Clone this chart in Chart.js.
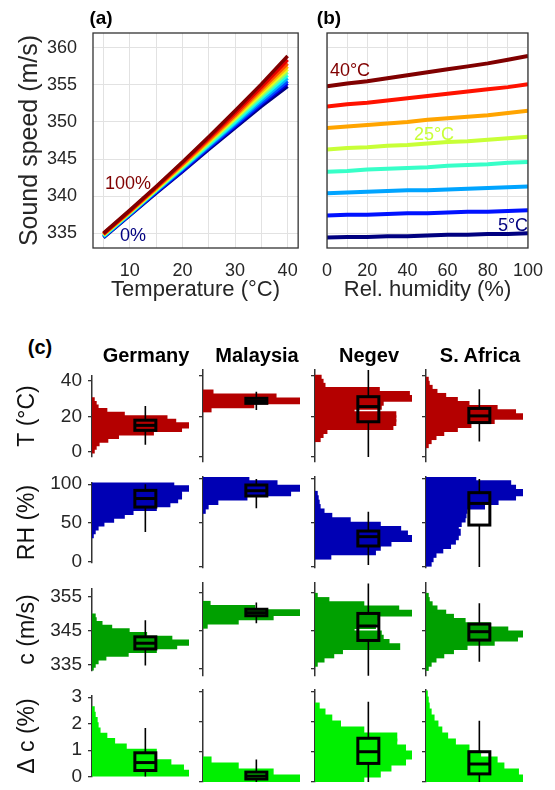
<!DOCTYPE html>
<html lang="en">
<head>
<meta charset="UTF-8" />
<title>Sound speed vs temperature and humidity</title>
<script src="https://cdn.jsdelivr.net/npm/chart.js"></script>
<style>
  body { margin: 0; background: #fff; overflow: hidden; }
  #fig { position: relative; width: 555px; height: 790px; font-family: "Liberation Sans", Arial, sans-serif; }
  .lbl { position: absolute; transform: translate(-50%, -50%); white-space: nowrap; line-height: 1; }
</style>
</head>
<body>
<div id="fig"></div>
<script>
  // ---- panel (a)/(b): sound speed table, one array per temperature (RH 0..100 %)
  const tempsC = [5, 10, 15, 20, 25, 30, 35, 40];
  const humidities = [0, 10, 20, 30, 40, 50, 60, 70, 80, 90, 100];
  const speedAt5 = [334.4, 334.5, 334.5, 334.6, 334.6, 334.7, 334.8, 334.8, 334.9, 334.9, 335.0];
  const speedAt10 = [337.4, 337.5, 337.5, 337.6, 337.7, 337.7, 337.8, 337.9, 337.9, 338.0, 338.1];
  const speedAt15 = [340.4, 340.5, 340.6, 340.7, 340.8, 340.8, 340.9, 341.0, 341.1, 341.2, 341.3];
  const speedAt20 = [343.3, 343.4, 343.6, 343.7, 343.8, 343.9, 344.1, 344.2, 344.3, 344.5, 344.6];
  const speedAt25 = [346.3, 346.5, 346.6, 346.8, 346.9, 347.1, 347.3, 347.4, 347.6, 347.8, 348.0];
  const speedAt30 = [349.2, 349.4, 349.6, 349.8, 350.0, 350.3, 350.5, 350.7, 350.9, 351.2, 351.5];
  const speedAt35 = [352.1, 352.4, 352.6, 352.9, 353.2, 353.5, 353.8, 354.1, 354.4, 354.7, 355.1];
  const speedAt40 = [354.8, 355.2, 355.5, 355.9, 356.3, 356.7, 357.1, 357.5, 357.9, 358.4, 358.9];
  const speedRows = [speedAt5, speedAt10, speedAt15, speedAt20, speedAt25, speedAt30, speedAt35, speedAt40];

  const tempGrid = [5, 10, 15, 20, 25, 30, 35, 40];
  const tempLabels = [10, 20, 30, 40];
  const humidityLabels = [0, 20, 40, 60, 80, 100];
  const speedTicks = [335, 340, 345, 350, 355, 360];

  // ---- panel (c): histograms (bin centres, relative counts) and box stats [min, q1, median, q3, max]
  const germanyTBins = [1, 3, 5, 7, 9, 11, 13, 15, 17, 19, 21, 23, 25, 27, 29];
  const germanyTCounts = [2, 4, 7, 16, 27, 63, 92, 100, 86, 77, 33, 15, 6, 4, 2];
  const germanyTBox = [4.1, 12.2, 15.0, 17.9, 25.8];
  const malaysiaTBins = [23.7, 25.7, 27.7, 29.7, 31.7];
  const malaysiaTCounts = [8, 52, 100, 75, 10];
  const malaysiaTBox = [23.2, 26.5, 27.7, 29.0, 32.2];
  const negevTBins = [9, 11, 13, 15, 17, 19, 21, 23, 25, 27, 29, 31, 33, 35, 37, 39];
  const negevTCounts = [5, 8, 12, 80, 83, 83, 83, 40, 68, 70, 100, 97, 66, 10, 8, 6];
  const negevTBox = [0, 17.4, 24.9, 29.8, 43];
  const safricaTBins = [6, 8, 10, 12, 14, 16, 18, 20, 22, 24, 26, 28, 30, 32, 34, 36, 38];
  const safricaTCounts = [2, 5, 10, 18, 32, 46, 70, 100, 92, 73, 44, 32, 20, 11, 6, 3, 2];
  const safricaTBox = [7.6, 17.0, 20.3, 24.0, 33.5];

  const germanyRHBins = [34.5, 39.5, 44.5, 49.5, 54.5, 59.5, 64.5, 69.5, 74.5, 79.5, 84.5, 89.5, 94.5, 99.5];
  const germanyRHCounts = [1, 3, 6, 12, 22, 33, 42, 66, 80, 88, 92, 92, 100, 84];
  const germanyRHBox = [38.3, 70.5, 81.5, 92.0, 100];
  const malaysiaRHBins = [64.5, 69.5, 74.5, 79.5, 84.5, 89.5, 94.5, 99.5];
  const malaysiaRHCounts = [2, 5, 15, 45, 90, 100, 76, 47];
  const malaysiaRHBox = [66.7, 80.7, 86.7, 93.2, 100];
  const negevRHBins = [12.5, 17.5, 22.5, 27.5, 32.5, 37.5, 42.5, 47.5, 52.5, 57.5, 62.5, 67.5, 72.5, 77.5, 82.5];
  const negevRHCounts = [16, 62, 67, 78, 100, 95, 88, 67, 36, 17, 9, 5, 4, 3, 2];
  const negevRHBox = [2.3, 23.9, 34.5, 40.9, 62.9];
  const safricaRHBins = [4.5, 9.5, 14.5, 19.5, 24.5, 29.5, 34.5, 39.5, 44.5, 49.5, 54.5, 59.5, 64.5, 69.5, 74.5, 79.5, 84.5, 89.5, 94.5, 99.5];
  const safricaRHCounts = [5, 7, 10, 17, 25, 30, 33, 35, 33, 36, 40, 41, 42, 60, 74, 92, 100, 92, 87, 51];
  const safricaRHBox = [0, 47.7, 72.3, 84.5, 100];

  const germanyCBins = [333.8, 334.9, 336.0, 337.1, 338.2, 339.3, 340.4, 341.5, 342.6, 343.7, 344.8, 345.9, 347.0, 348.1, 349.2];
  const germanyCCounts = [1, 3, 6, 14, 37, 66, 87, 100, 82, 56, 38, 20, 10, 4, 3];
  const germanyCBox = [334.7, 339.6, 341.3, 343.2, 348.1];
  const malaysiaCBins = [346.5, 347.6, 348.7, 349.8, 350.9, 352.0];
  const malaysiaCCounts = [4, 36, 72, 100, 53, 7];
  const malaysiaCBox = [347.0, 349.0, 349.8, 350.7, 352.5];
  const negevCBins = [336.5, 337.6, 338.7, 339.8, 340.9, 342.0, 343.1, 344.2, 345.3, 346.4, 347.5, 348.6, 349.7, 350.8, 351.9, 353.0, 354.1];
  const negevCCounts = [2, 9, 19, 28, 87, 76, 70, 68, 40, 62, 64, 66, 100, 86, 50, 14, 2];
  const negevCBox = [333.2, 342.5, 346.3, 349.6, 357.5];
  const safricaCBins = [335.4, 336.5, 337.6, 338.7, 339.8, 340.9, 342.0, 343.1, 344.2, 345.3, 346.4, 347.5, 348.6, 349.7, 350.8, 351.9, 353.0, 354.1];
  const safricaCCounts = [2, 5, 10, 18, 28, 42, 70, 94, 100, 84, 66, 40, 28, 20, 11, 6, 3, 2];
  const safricaCBox = [336.9, 342.6, 344.8, 346.8, 352.3];

  const germanyDBins = [0.1, 0.3, 0.5, 0.7, 0.9, 1.1, 1.3, 1.5, 1.7, 1.9, 2.1, 2.3, 2.5];
  const germanyDCounts = [100, 94, 81, 66, 66, 35, 23, 15, 8, 6, 5, 3, 2];
  const germanyDBox = [0, 0.23, 0.53, 0.9, 1.84];
  const malaysiaDBins = [0.1, 0.3, 0.5, 0.7];
  const malaysiaDCounts = [100, 72, 36, 8];
  const malaysiaDBox = [0, 0.1, 0.2, 0.33, 0.75];
  const negevDBins = [0.1, 0.3, 0.5, 0.7, 0.9, 1.1, 1.3, 1.5, 1.7, 1.9, 2.1, 2.3, 2.5];
  const negevDCounts = [50, 67, 78, 93, 100, 93, 84, 84, 50, 26, 17, 10, 4];
  const negevDBox = [0, 0.62, 1.01, 1.46, 2.68];
  const safricaDBins = [0.1, 0.3, 0.5, 0.7, 0.9, 1.1, 1.3, 1.5, 1.7, 1.9, 2.1, 2.3, 2.5, 2.7, 2.9];
  const safricaDCounts = [100, 95, 80, 73, 56, 44, 30, 22, 16, 12, 8, 5, 3, 2, 1];
  const safricaDBox = [0, 0.27, 0.6, 1.01, 2.04];

  const regions = ["Germany", "Malaysia", "Negev", "S. Africa"];
  const rowTitles = ["T (°C)", "RH (%)", "c (m/s)", "Δ c (%)"];
  const rowTicks = [[0, 20, 40], [0, 50, 100], [335, 345, 355], [0, 1, 2, 3]];
  const rowRanges = [[-2.5, 43], [-1.1, 102.3], [333.16, 357.6], [0, 3.07]];

  const panelsC = [
    [[germanyTBins, germanyTCounts, germanyTBox], [malaysiaTBins, malaysiaTCounts, malaysiaTBox],
     [negevTBins, negevTCounts, negevTBox], [safricaTBins, safricaTCounts, safricaTBox]],
    [[germanyRHBins, germanyRHCounts, germanyRHBox], [malaysiaRHBins, malaysiaRHCounts, malaysiaRHBox],
     [negevRHBins, negevRHCounts, negevRHBox], [safricaRHBins, safricaRHCounts, safricaRHBox]],
    [[germanyCBins, germanyCCounts, germanyCBox], [malaysiaCBins, malaysiaCCounts, malaysiaCBox],
     [negevCBins, negevCCounts, negevCBox], [safricaCBins, safricaCCounts, safricaCBox]],
    [[germanyDBins, germanyDCounts, germanyDBox], [malaysiaDBins, malaysiaDCounts, malaysiaDBox],
     [negevDBins, negevDCounts, negevDBox], [safricaDBins, safricaDCounts, safricaDBox]],
  ];

  // ---- layout / style
  const rowColors = ["#b40000", "#0000b4", "#00a000", "#00f000"];
  const colAxisX = [92, 203, 315, 426];
  const rowTop = [370, 477, 583, 690];
  const rowBottom = [462, 568, 676, 782];
  const textColor = "#262626";

  Chart.defaults.font.family = "'Liberation Sans', Arial, sans-serif";
  Chart.defaults.color = textColor;

  const fig = document.getElementById("fig");

  function addCanvas(left, top, width, height) {
    const c = document.createElement("canvas");
    c.width = width;
    c.height = height;
    c.style.cssText = `position:absolute;left:${left}px;top:${top}px;width:${width}px;height:${height}px`;
    fig.appendChild(c);
    return c;
  }

  function addText(text, x, y, size, weight, color) {
    const d = document.createElement("div");
    d.className = "lbl";
    d.textContent = text;
    d.style.left = x + "px";
    d.style.top = y + "px";
    d.style.fontSize = size + "px";
    d.style.fontWeight = weight;
    d.style.color = color;
    fig.appendChild(d);
  }

  function jet(t) {
    const ch = (v) => Math.round(255 * Math.max(0, Math.min(1, 1.5 - Math.abs(4 * t - v))));
    return `rgb(${ch(3)},${ch(2)},${ch(1)})`;
  }

  // frame round the plot area (panels a and b)
  const framePlugin = {
    id: "frame",
    afterDraw(chart, args, opts) {
      if (!opts.color) return;
      const { left, top, right, bottom } = chart.chartArea;
      const ctx = chart.ctx;
      ctx.save();
      ctx.strokeStyle = opts.color;
      ctx.lineWidth = opts.width;
      ctx.strokeRect(left, top, right - left, bottom - top);
      ctx.restore();
    },
  };

  // box and whiskers drawn through the chart scales
  const boxPlugin = {
    id: "boxplot",
    afterDatasetsDraw(chart, args, opts) {
      if (!opts.stats) return;
      const [lo, q1, med, q3, hi] = opts.stats;
      const ctx = chart.ctx;
      const cx = chart.scales.x.getPixelForValue(opts.at);
      const py = (v) => chart.scales.y.getPixelForValue(v);
      const hw = opts.halfWidth;
      ctx.save();
      ctx.strokeStyle = "#000";
      ctx.lineWidth = 1.6;
      ctx.beginPath();
      ctx.moveTo(cx, py(hi));
      ctx.lineTo(cx, py(q3));
      ctx.moveTo(cx, py(q1));
      ctx.lineTo(cx, py(lo));
      ctx.stroke();
      ctx.lineWidth = 3;
      ctx.strokeRect(cx - hw, py(q3), 2 * hw, py(q1) - py(q3));
      ctx.beginPath();
      ctx.moveTo(cx - hw, py(med));
      ctx.lineTo(cx + hw, py(med));
      ctx.stroke();
      ctx.restore();
    },
  };

  Chart.register(framePlugin, boxPlugin);

  // ---- panel (a)
  const datasetsA = [];
  for (let j = humidities.length - 1; j >= 0; j--) {
    datasetsA.push({
      data: tempsC.map((t, i) => ({ x: t, y: speedRows[i][j] })),
      borderColor: jet(j / (humidities.length - 1)),
      borderWidth: 3.5,
      pointRadius: 0,
    });
  }

  new Chart(addCanvas(0, 0, 310, 310), {
    type: "line",
    data: { datasets: datasetsA },
    options: {
      responsive: false,
      animation: false,
      layout: { padding: { top: 33, right: 7, left: 0, bottom: 0 } },
      plugins: { legend: { display: false }, tooltip: { enabled: false }, frame: { color: "#333", width: 1.3 } },
      scales: {
        x: {
          type: "linear", min: 3, max: 42,
          afterBuildTicks: (s) => { s.ticks = tempGrid.map((v) => ({ value: v })); },
          afterFit: (s) => { s.height = 62; },
          ticks: { callback: (v) => (tempLabels.includes(v) ? v : ""), font: { size: 18 }, padding: 12, autoSkip: false, maxRotation: 0 },
          grid: { color: "#e2e2e2", drawTicks: false },
          border: { display: false },
          title: { display: true, text: "Temperature (°C)", font: { size: 22 }, padding: { top: 0, bottom: 7 } },
        },
        y: {
          type: "linear", min: 333, max: 362,
          afterBuildTicks: (s) => { s.ticks = speedTicks.map((v) => ({ value: v })); },
          afterFit: (s) => { s.width = 93; },
          ticks: { font: { size: 18 }, padding: 16, autoSkip: false },
          grid: { color: "#e2e2e2", drawTicks: false },
          border: { display: false },
          title: { display: true, text: "Sound speed (m/s)", font: { size: 25 }, padding: { top: 15, bottom: 0 } },
        },
      },
    },
  });

  // ---- panel (b)
  const datasetsB = tempsC.map((t, i) => ({
    data: humidities.map((h, j) => ({ x: h, y: speedRows[i][j] })),
    borderColor: jet(i / (tempsC.length - 1)),
    borderWidth: 4,
    pointRadius: 0,
  }));

  new Chart(addCanvas(310, 0, 245, 310), {
    type: "line",
    data: { datasets: datasetsB },
    options: {
      responsive: false,
      animation: false,
      layout: { padding: { top: 33, right: 25, left: 0, bottom: 0 } },
      plugins: { legend: { display: false }, tooltip: { enabled: false }, frame: { color: "#333", width: 1.3 } },
      scales: {
        x: {
          type: "linear", min: 0, max: 100,
          afterBuildTicks: (s) => { s.ticks = humidities.map((v) => ({ value: v })); },
          afterFit: (s) => { s.height = 62; },
          ticks: { callback: (v) => (humidityLabels.includes(v) ? v : ""), font: { size: 18 }, padding: 12, autoSkip: false, maxRotation: 0 },
          grid: { color: "#e2e2e2", drawTicks: false },
          border: { display: false },
          title: { display: true, text: "Rel. humidity (%)", font: { size: 22 }, padding: { top: 0, bottom: 7 } },
        },
        y: {
          type: "linear", min: 333, max: 362,
          afterBuildTicks: (s) => { s.ticks = speedTicks.map((v) => ({ value: v })); },
          afterFit: (s) => { s.width = 8; },
          ticks: { display: false },
          grid: { color: "#e2e2e2", drawTicks: false },
          border: { display: false },
        },
      },
    },
  });

  // ---- panel (c): 4 x 4 small histograms with box plots
  const padV = 12;
  const padR = 4;
  const panelW = 97;

  for (let r = 0; r < 4; r++) {
    for (let col = 0; col < 4; col++) {
      const [bins, counts, box] = panelsC[r][col];
      const leftSpace = col === 0 ? colAxisX[0] : 6;
      const h = rowBottom[r] - rowTop[r];
      const canvas = addCanvas(colAxisX[col] - leftSpace, rowTop[r] - padV, leftSpace + panelW + padR, h + 2 * padV);

      new Chart(canvas, {
        type: "bar",
        data: {
          datasets: [{
            data: bins.map((b, i) => ({ x: counts[i], y: b })),
            backgroundColor: rowColors[r],
            borderWidth: 0,
            inflateAmount: 0.8,
            // slight overlap between neighbouring bins so no hairline seams show
            barPercentage: 1.25,
            categoryPercentage: 1,
          }],
        },
        options: {
          responsive: false,
          animation: false,
          indexAxis: "y",
          layout: { padding: { top: padV, bottom: padV, right: padR, left: 0 } },
          plugins: {
            legend: { display: false },
            tooltip: { enabled: false },
            boxplot: { stats: box, at: 55, halfWidth: 10.5 },
          },
          scales: {
            x: { type: "linear", min: 0, max: 100, display: false },
            y: {
              type: "linear", min: rowRanges[r][0], max: rowRanges[r][1], offset: false,
              afterBuildTicks: (s) => { s.ticks = rowTicks[r].map((v) => ({ value: v })); },
              afterFit: (s) => { s.width = leftSpace; },
              ticks: { display: col === 0, font: { size: 19 }, padding: 6, autoSkip: false },
              grid: { drawOnChartArea: false, offset: false, color: "#333", tickLength: 4, lineWidth: 1.3 },
              border: { color: "#333", width: 1.5 },
              title: { display: col === 0, text: rowTitles[r], font: { size: 23 }, color: "#111", padding: { top: 14, bottom: 0 } },
            },
          },
        },
      });
    }
  }

  // ---- texts
  addText("(a)", 101, 17, 19, "bold", "#000");
  addText("(b)", 329, 17, 19, "bold", "#000");
  addText("(c)", 40, 347, 20, "bold", "#000");
  regions.forEach((name, i) => addText(name, colAxisX[i] + 54, 355, 20, "bold", "#000"));

  addText("100%", 128, 183, 18, "normal", jet(1));
  addText("0%", 133, 235, 18, "normal", jet(0));
  addText("40°C", 350, 70, 18, "normal", jet(1));
  addText("25°C", 434, 134, 18, "normal", jet(4 / 7));
  addText("5°C", 513, 225, 18, "normal", jet(0));
</script>
</body>
</html>
